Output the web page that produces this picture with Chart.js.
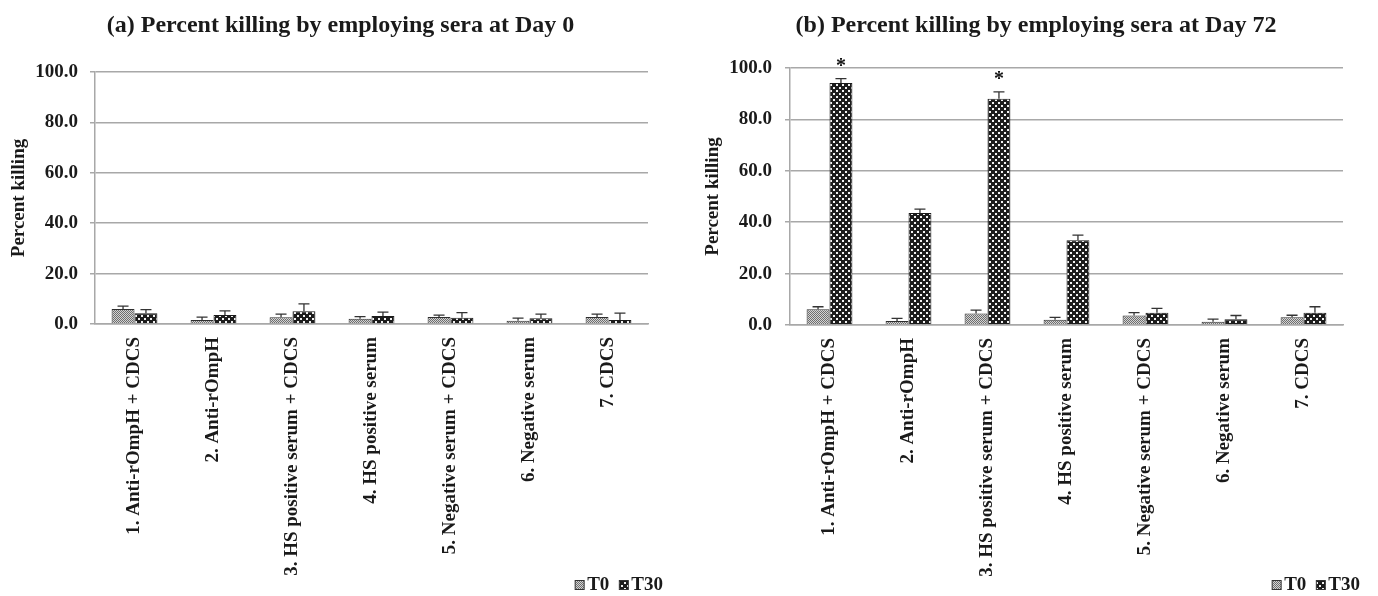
<!DOCTYPE html>
<html>
<head>
<meta charset="utf-8">
<script src="https://cdn.jsdelivr.net/npm/chart.js@4.4.1/dist/chart.umd.min.js"></script>
<style>
  html, body { margin: 0; padding: 0; background: #ffffff; }
  #wrap { position: relative; width: 1378px; height: 596px; }
  canvas { position: absolute; top: 0; }
  #c0 { left: 0; }
  #c72 { left: 680px; }
</style>
</head>
<body>
<div id="wrap">
  <canvas id="c0" width="680" height="596"></canvas>
  <canvas id="c72" width="698" height="596"></canvas>
</div>
<script>
// ---------- data ----------
const categories = [
  '1. Anti-rOmpH + CDCS',
  '2. Anti-rOmpH',
  '3. HS positive serum + CDCS',
  '4. HS positive serum',
  '5. Negative serum + CDCS',
  '6. Negative serum',
  '7. CDCS'
];
const seriesNames = ['T0', 'T30'];
const yTickValues = [0, 20, 40, 60, 80, 100];

const titleDay0 = '(a) Percent killing by employing sera at Day 0';
const titleDay72 = '(b) Percent killing by employing sera at Day 72';
const yAxisTitle = 'Percent killing';

const day0T0 = [6.0, 1.6, 2.7, 2.1, 2.8, 1.3, 2.8];
const day0T0Err = [1.1, 1.1, 1.2, 0.8, 0.7, 1.0, 1.1];
const day0T30 = [4.3, 3.6, 5.1, 3.2, 2.5, 2.3, 1.6];
const day0T30Err = [1.4, 1.6, 2.9, 1.5, 2.0, 1.6, 2.7];

const day72T0 = [6.1, 1.6, 4.5, 2.0, 3.7, 1.3, 3.0];
const day72T0Err = [1.0, 1.0, 1.3, 1.0, 1.1, 1.0, 0.8];
const day72T30 = [94.2, 43.6, 88.0, 33.0, 4.8, 2.2, 4.8];
const day72T30Err = [1.7, 1.5, 2.7, 2.0, 1.7, 1.5, 2.3];
const day72T30Sig = ['*', '', '*', '', '', '', ''];

// ---------- patterns ----------
function makePattern(kind) {
  const c = document.createElement('canvas');
  const g = c.getContext('2d');
  if (kind === 'T0') {
    c.width = 2; c.height = 2;
    g.fillStyle = '#d4d4d4'; g.fillRect(0, 0, 2, 2);
    g.fillStyle = '#6e6e6e'; g.fillRect(0, 0, 1, 1); g.fillRect(1, 1, 1, 1);
  } else {
    c.width = 6; c.height = 6;
    g.fillStyle = '#1c1c1c'; g.fillRect(0, 0, 6, 6);
    g.fillStyle = '#f2f2f2'; g.fillRect(0, 0, 2, 2); g.fillRect(3, 3, 2, 2);
  }
  return g.createPattern(c, 'repeat');
}
const patT0 = makePattern('T0');
const patT30 = makePattern('T30');

const FONT = 'Liberation Serif';
const TXT = '#1a1a1a';
const GRID = '#a8a8a8';

// ---------- plugins ----------
const errorBarPlugin = {
  id: 'errorBars',
  afterDatasetsDraw(chart) {
    const ctx = chart.ctx;
    const ys = chart.scales.y;
    chart.data.datasets.forEach((ds, i) => {
      const meta = chart.getDatasetMeta(i);
      meta.data.forEach((el, j) => {
        const v = ds.data[j];
        const e = ds.errors ? ds.errors[j] : 0;
        const yt = ys.getPixelForValue(v + e);
        ctx.save();
        ctx.strokeStyle = '#333333';
        ctx.lineWidth = 1.3;
        ctx.beginPath();
        ctx.moveTo(el.x, el.y);
        ctx.lineTo(el.x, yt);
        ctx.moveTo(el.x - 5.5, yt);
        ctx.lineTo(el.x + 5.5, yt);
        ctx.stroke();
        if (ds.sig && ds.sig[j]) {
          ctx.fillStyle = '#111111';
          ctx.font = 'bold 20px "' + FONT + '"';
          ctx.textAlign = 'center';
          ctx.textBaseline = 'bottom';
          ctx.fillText(ds.sig[j], el.x, yt - 2);
        }
        ctx.restore();
      });
    });
  }
};

function decorPlugin(title, titleX, legendRight) {
  return {
    id: 'decor',
    afterDraw(chart) {
      const ctx = chart.ctx;
      ctx.save();
      ctx.fillStyle = TXT;
      ctx.font = 'bold 24px "' + FONT + '"';
      ctx.textAlign = 'center';
      ctx.textBaseline = 'alphabetic';
      ctx.fillText(title, titleX, 32);
      // legend
      ctx.font = 'bold 19px "' + FONT + '"';
      ctx.textBaseline = 'middle';
      ctx.textAlign = 'left';
      const dsets = chart.data.datasets;
      let x = legendRight;
      for (let k = dsets.length - 1; k >= 0; k--) {
        const t = dsets[k].label;
        const w = ctx.measureText(t).width;
        x -= w;
        ctx.fillStyle = TXT;
        ctx.fillText(t, x, 585);
        x -= 3;
        x -= 9;
        ctx.fillStyle = dsets[k].backgroundColor;
        ctx.fillRect(x, 580.5, 9, 9);
        ctx.strokeStyle = '#333';
        ctx.lineWidth = 1;
        ctx.strokeRect(x, 580.5, 9, 9);
        x -= 10;
      }
      ctx.restore();
    }
  };
}

function makeChart(canvasId, t0, t0e, t30, t30e, sig, cfg) {
  return new Chart(document.getElementById(canvasId), {
    type: 'bar',
    data: {
      labels: categories,
      datasets: [
        { label: seriesNames[0], data: t0, errors: t0e, backgroundColor: patT0,
          borderColor: '#2e2e2e', borderWidth: 1, barPercentage: 1.0, categoryPercentage: 0.58 },
        { label: seriesNames[1], data: t30, errors: t30e, sig: sig, backgroundColor: patT30,
          borderColor: '#1a1a1a', borderWidth: 1, barPercentage: 1.0, categoryPercentage: 0.58 }
      ]
    },
    options: {
      responsive: false,
      animation: false,
      devicePixelRatio: 1,
      layout: { padding: { top: cfg.top, right: cfg.right, left: 0, bottom: 0 } },
      plugins: { legend: { display: false }, title: { display: false }, tooltip: { enabled: false } },
      scales: {
        x: {
          ticks: { autoSkip: false, maxRotation: 90, minRotation: 90, padding: 13, color: TXT,
                   font: { family: FONT, weight: 'bold', size: 19 } },
          grid: { display: false, drawTicks: false },
          border: { display: true, color: GRID, width: 1.5 },
          afterFit(s) { s.height = cfg.xHeight; }
        },
        y: {
          min: yTickValues[0],
          max: yTickValues[yTickValues.length - 1],
          afterBuildTicks(s) { s.ticks = yTickValues.map(v => ({ value: v })); },
          ticks: { color: TXT, padding: cfg.tickPad, callback: v => Number(v).toFixed(1),
                   font: { family: FONT, weight: 'bold', size: 19 } },
          grid: { color: GRID, lineWidth: 1.5, tickLength: 5, drawTicks: true },
          border: { display: true, color: GRID, width: 1.5 },
          title: { display: true, text: yAxisTitle, color: TXT,
                   font: { family: FONT, weight: 'bold', size: 19 },
                   padding: { top: cfg.titlePad, bottom: 0 } },
          afterFit(s) { s.width = cfg.yWidth; }
        }
      }
    },
    plugins: [errorBarPlugin, decorPlugin(cfg.title, cfg.titleX, cfg.legendRight)]
  });
}

makeChart('c0', day0T0, day0T0Err, day0T30, day0T30Err, null,
  { top: 72, right: 32, xHeight: 272, yWidth: 95, tickPad: 12, titlePad: 8,
    title: titleDay0, titleX: 340.5, legendRight: 663 });

makeChart('c72', day72T0, day72T0Err, day72T30, day72T30Err, day72T30Sig,
  { top: 68, right: 35, xHeight: 271, yWidth: 110, tickPad: 13, titlePad: 22,
    title: titleDay72, titleX: 356, legendRight: 680 });
</script>
</body>
</html>
